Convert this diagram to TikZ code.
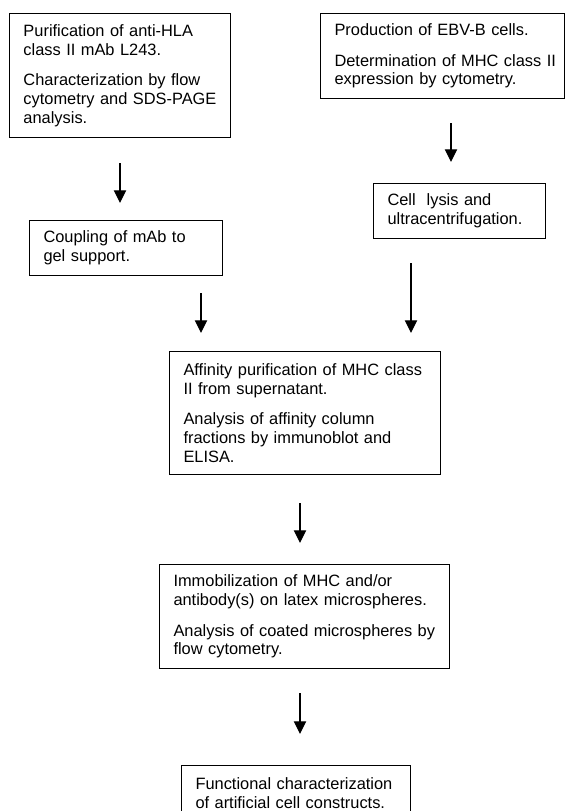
\documentclass[tikz,border=0pt]{standalone}
\usepackage{fontspec}
\setmainfont{Liberation Sans}
\usetikzlibrary{arrows.meta}
\tikzset{
  box/.style={draw=black, line width=0.75pt, anchor=north west, align=left,
    inner xsep=10.5pt, inner ysep=0pt,
    font=\fontsize{12.3pt}{14.1pt}\selectfont},
  arr/.style={line width=0.9pt, -{Triangle[width=9.2pt,length=9.5pt]}}
}
\begin{document}
\begin{tikzpicture}[x=0.75pt,y=-0.75pt]
\useasboundingbox (0,0) rectangle (565,811);
\node[box, minimum width=165.75pt, minimum height=93pt, text width=144.75pt] (b1) at (9,13)
 {\mbox{Purification of anti-HLA}\\\mbox{class II mAb L243.}\\[8.9pt]\mbox{Characterization by flow}\\\mbox{cytometry and SDS-PAGE}\\\mbox{analysis.}};
\node[box, minimum width=183pt, minimum height=63.75pt, text width=162pt] (b2) at (320,13)
 {\mbox{Production of EBV-B cells.}\\[8.9pt]\mbox{Determination of MHC class II}\\\mbox{expression by cytometry.}};
\node[box, minimum width=129pt, minimum height=41.25pt, text width=108pt] (b3) at (373,183)
 {\mbox{Cell\ \ lysis and}\\\mbox{ultracentrifugation.}};
\node[box, minimum width=144.75pt, minimum height=41.25pt, text width=123.75pt] (b4) at (29,220)
 {\mbox{Coupling of mAb to}\\\mbox{gel support.}};
\node[box, minimum width=203.25pt, minimum height=92.25pt, text width=182.25pt] (b5) at (169,351)
 {\mbox{Affinity purification of MHC class}\\\mbox{II from supernatant.}\\[8.9pt]\mbox{Analysis of affinity column}\\\mbox{fractions by immunoblot and}\\\mbox{ELISA.}};
\node[box, minimum width=217.5pt, minimum height=78pt, text width=196.5pt] (b6) at (159,564)
 {\mbox{Immobilization of MHC and/or}\\\mbox{antibody(s) on latex microspheres.}\\[8.9pt]\mbox{Analysis of coated microspheres by}\\\mbox{flow cytometry.}};
\node[box, minimum width=171.75pt, minimum height=41.25pt, text width=150.75pt] (b7) at (181,765)
 {\mbox{Functional characterization}\\\mbox{of artificial cell constructs.}};
\coordinate (a1s) at (120,163); \coordinate (a1e) at (120,203);
\coordinate (a2s) at (451,123); \coordinate (a2e) at (451,162);
\coordinate (a3s) at (201,293); \coordinate (a3e) at (201,333);
\coordinate (a4s) at (411,263); \coordinate (a4e) at (411,333);
\coordinate (a5s) at (300,503); \coordinate (a5e) at (300,543);
\coordinate (a6s) at (300,693); \coordinate (a6e) at (300,734);
\draw[arr] (a1s) -- (a1e);
\draw[arr] (a2s) -- (a2e);
\draw[arr] (a3s) -- (a3e);
\draw[arr] (a4s) -- (a4e);
\draw[arr] (a5s) -- (a5e);
\draw[arr] (a6s) -- (a6e);
\end{tikzpicture}
\end{document}
